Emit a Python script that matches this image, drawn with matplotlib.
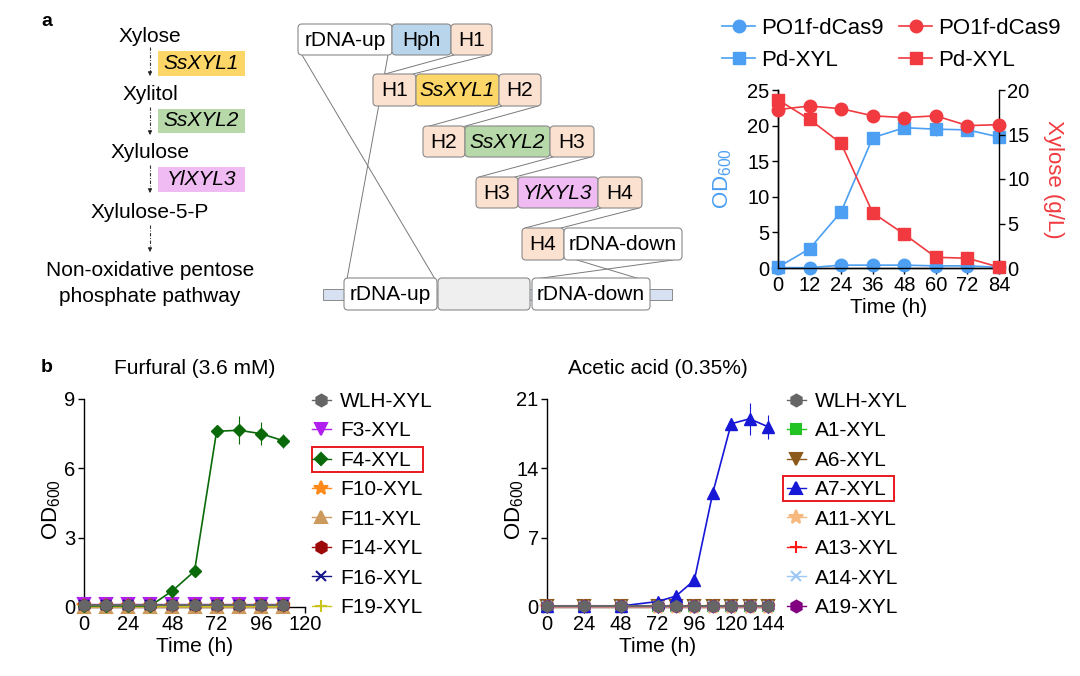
import numpy as np
import matplotlib
matplotlib.use("Agg")
import matplotlib.pyplot as plt
from matplotlib.patches import FancyBboxPatch, Rectangle
from matplotlib.lines import Line2D

plt.rcParams['font.family'] = ['Liberation Sans', 'DejaVu Sans']
plt.rcParams['mathtext.fontset'] = 'custom'
plt.rcParams['mathtext.rm'] = 'Liberation Sans'
plt.rcParams['mathtext.it'] = 'Liberation Sans:italic'
plt.rcParams['axes.linewidth'] = 1.0

# -------------------------------------------------
# data
# -------------------------------------------------
# panel a, growth + xylose
t_a = [0, 12, 24, 36, 48, 60, 72, 84]
od_ctrl = [0.05, 0.05, 0.4, 0.4, 0.4, 0.3, 0.3, 0.1]
od_xyl = [0.1, 2.7, 7.9, 18.3, 19.7, 19.5, 19.4, 18.4]
od_xyl_err = [0, 0.1, 0.2, 0.3, 0.3, 1.0, 0.3, 0.3]
xyl_ctrl = [17.8, 18.2, 17.9, 17.1, 16.9, 17.1, 16.0, 16.1]
xyl_xyl = [18.9, 16.7, 14.0, 6.2, 3.8, 1.2, 1.1, 0.1]
xyl_xyl_err = [0.2, 0.2, 0.2, 0.2, 0.2, 0.6, 0.2, 0.1]

# panel b, furfural
t_fur = [0, 12, 24, 36, 48, 60, 72, 84, 96, 108]
od_wlh_f = [0.1, 0.1, 0.1, 0.1, 0.1, 0.1, 0.1, 0.1, 0.1, 0.1]
od_f3 = [0.15, 0.15, 0.15, 0.15, 0.15, 0.15, 0.15, 0.15, 0.15, 0.15]
od_f4 = [0.05, 0.05, 0.05, 0.05, 0.7, 1.55, 7.6, 7.65, 7.5, 7.2]
od_f4_err = [0, 0, 0, 0, 0.1, 0.1, 0.15, 0.6, 0.5, 0.3]
od_f10 = [0.05, 0.05, 0.05, 0.05, 0.05, 0.05, 0.05, 0.05, 0.05, 0.05]
od_f11 = [0.02, 0.02, 0.02, 0.02, 0.02, 0.02, 0.02, 0.02, 0.02, 0.02]
od_f14 = [0.08, 0.08, 0.08, 0.08, 0.08, 0.08, 0.08, 0.08, 0.08, 0.08]
od_f16 = [0.07, 0.07, 0.07, 0.07, 0.07, 0.07, 0.07, 0.07, 0.07, 0.07]
od_f19 = [0.06, 0.06, 0.06, 0.06, 0.06, 0.06, 0.06, 0.06, 0.06, 0.06]

# panel b, acetic acid
t_ac = [0, 24, 48, 72, 84, 96, 108, 120, 132, 144]
od_wlh_a = [0.1, 0.1, 0.1, 0.1, 0.1, 0.1, 0.1, 0.1, 0.1, 0.1]
od_a1 = [0.15, 0.15, 0.15, 0.15, 0.15, 0.15, 0.15, 0.15, 0.15, 0.15]
od_a6 = [0.08, 0.08, 0.08, 0.08, 0.08, 0.08, 0.08, 0.08, 0.08, 0.08]
od_a7 = [0.1, 0.1, 0.1, 0.55, 1.1, 2.7, 11.5, 18.5, 19.0, 18.2]
od_a7_err = [0, 0, 0, 0.1, 0.2, 0.3, 0.4, 0.6, 1.6, 1.2]
od_a11 = [0.05, 0.05, 0.05, 0.05, 0.05, 0.05, 0.05, 0.05, 0.05, 0.05]
od_a13 = [0.07, 0.07, 0.07, 0.07, 0.07, 0.07, 0.07, 0.07, 0.07, 0.07]
od_a14 = [0.06, 0.06, 0.06, 0.06, 0.06, 0.06, 0.06, 0.06, 0.06, 0.06]
od_a19 = [0.09, 0.09, 0.09, 0.09, 0.09, 0.09, 0.09, 0.09, 0.09, 0.09]

fur_labels = ["WLH-XYL", "F3-XYL", "F4-XYL", "F10-XYL", "F11-XYL", "F14-XYL", "F16-XYL", "F19-XYL"]
ac_labels = ["WLH-XYL", "A1-XYL", "A6-XYL", "A7-XYL", "A11-XYL", "A13-XYL", "A14-XYL", "A19-XYL"]

# pathway + construct labels
pathway_steps = ["Xylose", "Xylitol", "Xylulose", "Xylulose-5-P"]
pathway_genes = ["SsXYL1", "SsXYL2", "YlXYL3"]

W, H = 1080, 676
fig = plt.figure(figsize=(10.8, 6.76), dpi=100)


def fx(x):
    return x / W


def fy(y):
    return 1 - y / H


def axes_px(x0, x1, y0, y1):
    return fig.add_axes([fx(x0), fy(y1), (x1 - x0) / W, (y1 - y0) / H])


# -------------------------------------------------
# diagram layer (pixel coordinates)
# -------------------------------------------------
ax_d = fig.add_axes([0, 0, 1, 1])
ax_d.set_xlim(0, W)
ax_d.set_ylim(H, 0)
ax_d.axis("off")

c_yel, c_grn, c_pnk = "#fdd668", "#b7d8a9", "#efbbf2"
c_hom, c_hph = "#fbe1d0", "#b9d5ec"

ax_d.text(41, 22, "a", fontsize=14, fontweight="bold", ha="left", va="center")
ax_d.text(41, 368, "b", fontsize=14, fontweight="bold", ha="left", va="center")

# pathway
step_y = [36, 95, 153, 212]
for lab, yy in zip(pathway_steps, step_y):
    ax_d.text(150, yy, lab, fontsize=15, ha="center", va="center")
ax_d.text(150, 270, "Non-oxidative pentose", fontsize=15, ha="center", va="center")
ax_d.text(150, 297, "phosphate pathway", fontsize=15, ha="center", va="center")

arrow_y = [(47, 76), (107, 135), (165, 193), (225, 252)]
for y0, y1 in arrow_y:
    ax_d.plot([150, 150], [y0, y1 - 4], color="#333333", lw=0.8, ls=(0, (3, 1.5, 0.8, 1.5)))
    ax_d.annotate("", xy=(150, y1), xytext=(150, y1 - 5),
                  arrowprops=dict(arrowstyle="-|>", color="#222222", lw=0.6, mutation_scale=6))

gene_y = [(51, 76), (109, 133), (167, 192)]
for lab, (y0, y1), c in zip(pathway_genes, gene_y, [c_yel, c_grn, c_pnk]):
    ax_d.add_patch(Rectangle((158, y0), 87, y1 - y0, fc=c, ec="none"))
    ax_d.text(201.5, (y0 + y1) / 2, lab, fontsize=15, style="italic", ha="center", va="center")


# construct
def part(x0, x1, y0, y1, label, fc, italic=False):
    p = FancyBboxPatch((x0, y0), x1 - x0, y1 - y0,
                       boxstyle="round,pad=0,rounding_size=4",
                       fc=fc, ec="#8a8a8a", lw=0.8, zorder=3)
    ax_d.add_patch(p)
    if label:
        ax_d.text((x0 + x1) / 2, (y0 + y1) / 2 + 1, label, fontsize=15,
                  style="italic" if italic else "normal",
                  ha="center", va="center", zorder=4)


def link(p0, p1):
    ax_d.plot([p0[0], p1[0]], [p0[1], p1[1]], color="#7a7a7a", lw=0.7, zorder=2)


# connecting lines
link((302, 55), (435, 279))
link((388, 55), (347, 279))
link((454, 55), (385, 74))
link((489, 55), (413, 74))
link((502, 106), (426, 127))
link((538, 106), (462, 127))
link((553, 157), (479, 177))
link((591, 157), (515, 177))
link((601, 208), (525, 228))
link((639, 208), (561, 228))
link((577, 260), (640, 279))
link((673, 260), (535, 279))

part(298, 392, 24, 55, "rDNA-up", "white")
part(392, 451, 24, 55, "Hph", c_hph)
part(451, 492, 24, 55, "H1", c_hom)

part(373, 416, 74, 106, "H1", c_hom)
part(416, 499, 74, 106, "SsXYL1", c_yel, italic=True)
part(499, 541, 74, 106, "H2", c_hom)

part(423, 465, 126, 157, "H2", c_hom)
part(465, 550, 126, 157, "SsXYL2", c_grn, italic=True)
part(550, 594, 126, 157, "H3", c_hom)

part(476, 518, 177, 208, "H3", c_hom)
part(518, 598, 177, 208, "YlXYL3", c_pnk, italic=True)
part(598, 642, 177, 208, "H4", c_hom)

part(522, 564, 228, 260, "H4", c_hom)
part(564, 682, 228, 260, "rDNA-down", "white")

ax_d.add_patch(Rectangle((323, 289), 349, 11, fc="#d7e1f1", ec="#8a8a8a", lw=0.7, zorder=1))
part(344, 437, 278, 310, "rDNA-up", "white")
part(438, 530, 278, 310, "", "#efefef")
part(532, 650, 278, 310, "rDNA-down", "white")

# -------------------------------------------------
# top right: OD600 and xylose
# -------------------------------------------------
blue = "#4c9ff2"
red = "#f03a3f"
axA = axes_px(778, 999, 90, 268)
axA.set_facecolor("none")
axB = axA.twinx()

axA.plot(t_a, od_ctrl, color=blue, marker="o", ms=9, lw=1.2, clip_on=False, zorder=3)
axA.errorbar(t_a, od_xyl, yerr=od_xyl_err, color=blue, marker="s", ms=8.5, lw=1.2,
             elinewidth=0.8, capsize=0, clip_on=False, zorder=3)
axB.plot(t_a, xyl_ctrl, color=red, marker="o", ms=9, lw=1.2, clip_on=False, zorder=3)
axB.errorbar(t_a, xyl_xyl, yerr=xyl_xyl_err, color=red, marker="s", ms=8.5, lw=1.2,
             elinewidth=0.8, capsize=0, clip_on=False, zorder=3)

axA.set_xlim(0, 84)
axA.set_ylim(0, 25)
axB.set_ylim(0, 20)
axA.set_xticks(np.arange(0, 85, 12))
axA.set_yticks(np.arange(0, 26, 5))
axB.set_yticks(np.arange(0, 21, 5))
for a in (axA, axB):
    a.spines["top"].set_visible(False)
    a.tick_params(direction="out", length=4, width=1, labelsize=14.5, pad=2)
axA.spines["right"].set_visible(False)
axA.set_xlabel("Time (h)", fontsize=15, labelpad=2)
axA.set_ylabel(r"OD$_{600}$", fontsize=16, color=blue)
axA.yaxis.set_label_coords(-0.2, 0.5)
axB.set_ylabel("Xylose (g/L)", fontsize=16, color=red, rotation=270, va="bottom")
axB.yaxis.set_label_coords(1.2, 0.5)

hA = [Line2D([], [], color=blue, marker="o", ms=9, lw=1.2),
      Line2D([], [], color=blue, marker="s", ms=8.5, lw=1.2),
      Line2D([], [], color=red, marker="o", ms=9, lw=1.2),
      Line2D([], [], color=red, marker="s", ms=8.5, lw=1.2)]
fig.legend(hA, ["PO1f-dCas9", "Pd-XYL", "PO1f-dCas9", "Pd-XYL"], ncol=2,
           loc="upper left", bbox_to_anchor=(fx(722), fy(18)), frameon=False,
           fontsize=16, handlelength=1.5, handletextpad=0.25, columnspacing=0.7,
           labelspacing=0.48, borderpad=0, borderaxespad=0)


# -------------------------------------------------
# bottom panels
# -------------------------------------------------
def od_panel(x0, x1, t, series, hi_idx, hi_err, xmax, ymax, ystep, title, labels,
             markers, colors, sizes, leg_x, box_x):
    ax = axes_px(x0, x1, 399, 607)
    ax.set_facecolor("none")
    order = [i for i in range(len(series)) if i not in (0, hi_idx)]
    for i in order:
        ax.plot(t, series[i], color=colors[i], marker=markers[i], ms=sizes[i], lw=1,
                mew=1.5, clip_on=False, zorder=3)
    ax.errorbar(t, series[hi_idx], yerr=hi_err, color=colors[hi_idx], marker=markers[hi_idx],
                ms=sizes[hi_idx], lw=1.2, elinewidth=0.8, capsize=0, clip_on=False, zorder=4)
    ax.plot(t, series[0], color=colors[0], marker=markers[0], ms=sizes[0], lw=1.5,
            clip_on=False, zorder=5)
    ax.set_xlim(0, xmax)
    ax.set_ylim(0, ymax)
    ax.set_xticks(np.arange(0, xmax + 1, 24))
    ax.set_yticks(np.arange(0, ymax + 1, ystep))
    ax.spines["top"].set_visible(False)
    ax.spines["right"].set_visible(False)
    ax.tick_params(direction="out", length=4, width=1, labelsize=14.5, pad=2)
    ax.set_xlabel("Time (h)", fontsize=15, labelpad=2)
    ax.set_ylabel(r"OD$_{600}$", fontsize=16)
    ax.yaxis.set_label_coords(-0.095, 0.47)
    fig.text(fx((x0 + x1) / 2), fy(369), title, fontsize=15, ha="center", va="center")

    handles = [Line2D([], [], color=colors[i], marker=markers[i], ms=sizes[i], lw=1, mew=1.5)
               for i in range(len(labels))]
    fig.legend(handles, labels, loc="upper left", bbox_to_anchor=(fx(leg_x), fy(392)),
               frameon=False, fontsize=15, handlelength=0.9, handletextpad=0.45,
               labelspacing=0.5, borderpad=0, borderaxespad=0)
    hi_y = 400 + hi_idx * 29.5
    fig.patches.append(Rectangle((fx(box_x), fy(hi_y + 12.5)), 111 / W, 25 / H,
                                 transform=fig.transFigure, fill=False, ec="#e8191f", lw=1.4))
    return ax


od_panel(84, 305, t_fur,
         [od_wlh_f, od_f3, od_f4, od_f10, od_f11, od_f14, od_f16, od_f19],
         2, od_f4_err, 120, 9, 3, "Furfural (3.6 mM)", fur_labels,
         ["h", "v", "D", "*", "^", "h", "x", "+"],
         ["#666666", "#b01ff0", "#0a6a0a", "#ff8a1c", "#cc9a5c", "#9c0a0a", "#15158a", "#c9c41e"],
         [8.5, 8, 6.5, 10, 8, 8.5, 7, 9],
         312, 312)

od_panel(547, 768, t_ac,
         [od_wlh_a, od_a1, od_a6, od_a7, od_a11, od_a13, od_a14, od_a19],
         3, od_a7_err, 144, 21, 7, "Acetic acid (0.35%)", ac_labels,
         ["h", "s", "v", "^", "*", "+", "x", "h"],
         ["#666666", "#22c322", "#8b5a1a", "#1717d6", "#f5b97f", "#ff1a1a", "#9dc8f4", "#800080"],
         [8.5, 7.5, 8, 8.5, 10, 9, 7, 8.5],
         787, 783)

fig.savefig("out.png", dpi=100)
